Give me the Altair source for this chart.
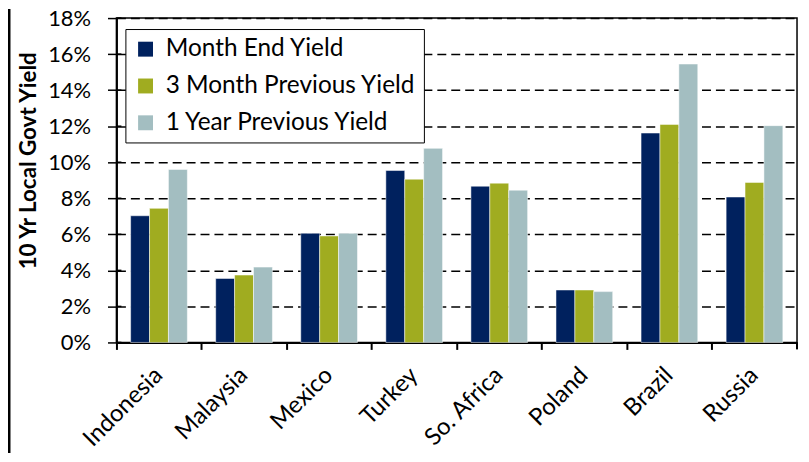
import altair as alt
import pandas as pd

countries = ["Indonesia", "Malaysia", "Mexico", "Turkey", "So. Africa", "Poland", "Brazil", "Russia"]
series = ["Month End Yield", "3 Month Previous Yield", "1 Year Previous Yield"]
month_end = [7.03, 3.55, 6.06, 9.54, 8.67, 2.91, 11.62, 8.07]
three_month = [7.44, 3.74, 5.91, 9.06, 8.84, 2.91, 12.10, 8.88]
one_year = [9.60, 4.18, 6.06, 10.77, 8.45, 2.82, 15.45, 12.03]
colors = ["#00215E", "#A0AC20", "#A3BEC1"]
y_ticks = [0, 2, 4, 6, 8, 10, 12, 14, 16, 18]

rows = []
for i, c in enumerate(countries):
    for s, vals in zip(series, [month_end, three_month, one_year]):
        rows.append({"country": c, "series": s, "value": vals[i]})
df = pd.DataFrame(rows)

FONT = "Lato"
W, H = 684, 326
PAD = {"left": 109, "top": 9, "right": 4, "bottom": 111}

y_axis = alt.Axis(
    values=y_ticks, labelExpr="datum.value + '%'",
    title="10 Yr Local Govt Yield", titleFont=FONT, titleFontSize=22.5,
    titleFontWeight="bold", titleColor="black",
    titleX=-88, titleY=143, titleAngle=270, titleAlign="center",
    titleBaseline="middle",
    grid=True, gridDash=[9, 5], gridColor="black", gridWidth=1.5,
    tickSize=9, tickColor="black", tickWidth=1.5,
    domainColor="black", domainWidth=2,
    labelFont=FONT, labelFontSize=22, labelColor="black", labelPadding=17,
)
y_scale = alt.Scale(domain=[0, 18], nice=False)

bars = alt.Chart(df).mark_bar(stroke="white", strokeWidth=0.5).encode(
    x=alt.X(
        "country:N", sort=countries,
        scale=alt.Scale(paddingInner=0, paddingOuter=0),
        axis=alt.Axis(
            title=None, bandPosition=0, labelAngle=-45, labelAlign="right",
            labelBaseline="middle", labelOffset=0, labelPadding=22,
            tickSize=7, tickColor="black", tickWidth=2,
            domainColor="black", domainWidth=2,
            labelFont=FONT, labelFontSize=24, labelColor="black", grid=False,
        ),
    ),
    xOffset=alt.XOffset("series:N", sort=series,
                        scale=alt.Scale(paddingInner=0, paddingOuter=0.75)),
    y=alt.Y("value:Q", scale=y_scale, axis=y_axis),
    color=alt.Color(
        "series:N", sort=series,
        scale=alt.Scale(domain=series, range=colors),
        legend=alt.Legend(
            title=None, orient="none", legendX=9, legendY=11,
            direction="vertical", fillColor="white", strokeColor="black",
            padding=8, symbolType="square", symbolSize=225, symbolStrokeWidth=0,
            labelFont=FONT, labelFontSize=24.5, labelColor="black", labelLimit=400,
            rowPadding=12, labelOffset=8,
        ),
    ),
)

inner_ticks = alt.Chart(pd.DataFrame({"value": y_ticks})).mark_rule(
    color="black", strokeWidth=1.5
).encode(
    y=alt.Y("value:Q", scale=y_scale, axis=y_axis),
    x=alt.value(0), x2=alt.value(5),
)

dummy = pd.DataFrame({"a": [0]})
last_tick = alt.Chart(dummy).mark_rule(color="black", strokeWidth=2).encode(
    x=alt.value(W), y=alt.value(H), y2=alt.value(H + 7)
)
left_frame = alt.Chart(dummy).mark_rule(color="black", strokeWidth=3).encode(
    x=alt.value(-108), y=alt.value(-9), y2=alt.value(H + PAD["bottom"])
)

chart = alt.layer(bars, inner_ticks, last_tick, left_frame).properties(
    width=W, height=H,
    autosize=alt.AutoSizeParams(type="none"),
    padding=PAD,
).configure_view(stroke="black", strokeWidth=1.5)

chart.save("out.html", embed_options={"renderer": "svg", "actions": False})
